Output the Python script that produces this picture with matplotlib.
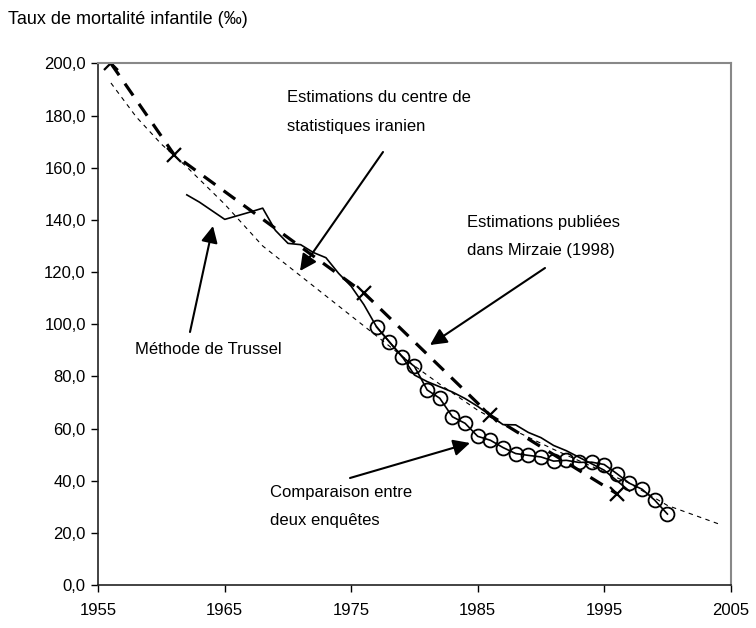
import numpy as np
import matplotlib
matplotlib.use("Agg")
import matplotlib.pyplot as plt

plt.rcParams['font.family'] = ['Liberation Sans', 'DejaVu Sans']

# Estimations publiées dans Mirzaie (1998)
mirzaie_years = [1956, 1961, 1976, 1986, 1996]
mirzaie_vals = [200, 165, 112, 65, 35]

# Méthode de Trussel
trussel_years = [1962, 1963, 1964, 1965, 1966, 1967, 1968, 1969, 1970, 1971,
                 1972, 1973, 1974, 1975, 1976, 1977, 1978, 1979, 1980, 1981,
                 1982, 1983, 1984, 1985, 1986, 1987, 1988, 1989, 1990, 1991,
                 1992, 1993, 1994, 1995, 1996, 1997]
trussel_vals = [149.6, 146.8, 143.5, 140.2, 141.6, 143.0, 144.5, 136.0, 131.0, 130.5,
                127.5, 125.5, 119.5, 114.5, 107.5, 99.0, 93.3, 87.8, 80.5, 78.0,
                76.0, 74.0, 71.5, 68.5, 65.0, 61.5, 61.4, 58.5, 56.5, 53.5,
                51.5, 49.0, 46.5, 44.0, 40.0, 36.0]

# Comparaison entre deux enquêtes
comp_years = list(range(1977, 2001))
comp_vals = [99.0, 93.3, 87.6, 83.8, 74.8, 71.6, 64.5, 62.0, 57.0, 55.5,
             52.7, 50.4, 49.7, 49.1, 47.5, 47.8, 47.0, 47.1, 46.2, 42.7,
             39.0, 36.7, 32.5, 27.2]

# Estimations du centre de statistiques iranien
centre_years = [1956, 1958, 1960, 1962, 1965, 1968, 1971, 1974, 1977, 1980,
                1982, 1985, 1988, 1991, 1994, 1997, 2000, 2002, 2004]
centre_vals = [192.5, 179.5, 169.0, 160.3, 146.0, 130.0, 118.5, 107.0, 95.5, 84.0,
               77.0, 67.0, 59.0, 52.0, 45.5, 39.0, 30.5, 27.0, 23.5]

xticks = [1955, 1965, 1975, 1985, 1995, 2005]
yticks = [0, 20, 40, 60, 80, 100, 120, 140, 160, 180, 200]

fig = plt.figure(figsize=(7.56, 6.28), dpi=100)
ax = fig.add_axes([0.130, 0.0685, 0.8365, 0.8305])

ax.plot(centre_years, centre_vals, color='black', lw=0.8, dashes=(4, 4))
ax.plot(trussel_years, trussel_vals, color='black', lw=1.2)
ax.plot(comp_years, comp_vals, color='black', lw=1.2, marker='o', markersize=10,
        markerfacecolor='none', markeredgewidth=1.3)
ax.plot(mirzaie_years, mirzaie_vals, color='black', lw=2.3, dashes=(4.5, 3.2),
        marker='x', markersize=10.5, markeredgewidth=1.6)

ax.set_xlim(1955, 2005)
ax.set_ylim(0, 200)
ax.set_xticks(xticks)
ax.set_yticks(yticks)
ax.set_yticklabels([f"{v:.1f}".replace('.', ',') for v in yticks])
ax.tick_params(direction='out', length=5, width=1, labelsize=12, colors='black')
ax.tick_params(axis='x', pad=8)
ax.tick_params(axis='y', pad=4)
for s in ['left', 'bottom']:
    ax.spines[s].set_color('#222222')
    ax.spines[s].set_linewidth(1.2)
for s in ['top', 'right']:
    ax.spines[s].set_color('#888888')
    ax.spines[s].set_linewidth(1.5)

fig.text(8 / 756, 1 - 19 / 628, "Taux de mortalité infantile (‰)", fontsize=13,
         va='center', ha='left')

arrow = dict(arrowstyle='-|>', mutation_scale=25, lw=1.5, color='black',
             shrinkA=0, shrinkB=0)
tr = ax.transData.inverted()

def px(x, y):
    # conversion pixels image -> coordonnées données
    return tr.transform((x, 628 - y))

def note(lines, x, ys, tail, tip):
    for line, y in zip(lines, ys):
        ax.text(*px(x, y), line, fontsize=12, ha='left', va='center')
    ax.annotate('', xy=px(*tip), xytext=px(*tail), arrowprops=arrow)

note(["Estimations du centre de", "statistiques iranien"], 287, [97, 127],
     (383, 152), (300, 271))
note(["Estimations publiées", "dans Mirzaie (1998)"], 467, [222, 250],
     (545, 268), (430, 345))
note(["Méthode de Trussel"], 135, [350], (190, 332), (213, 226))
note(["Comparaison entre", "deux enquêtes"], 270, [492, 520],
     (350, 478), (470, 443))

fig.savefig("out.png", dpi=100)
